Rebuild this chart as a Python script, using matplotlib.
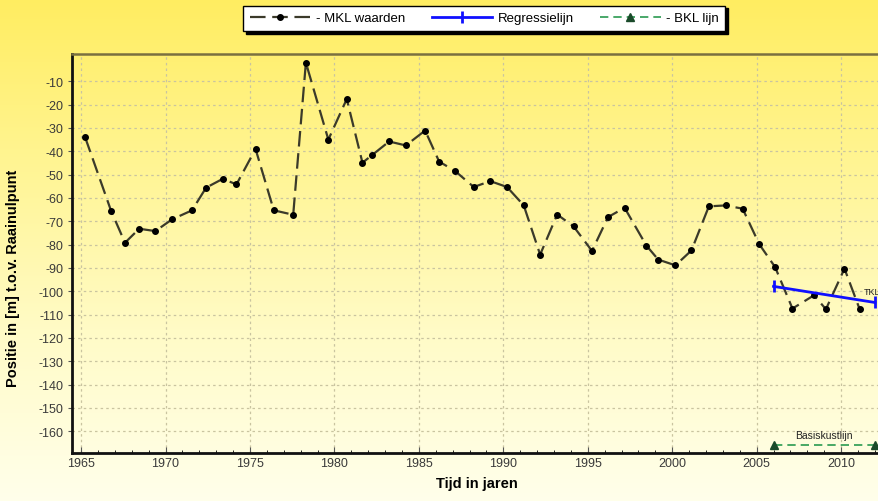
import numpy as np
import matplotlib
matplotlib.use("Agg")
import matplotlib.pyplot as plt
from matplotlib.colors import LinearSegmentedColormap

# ---- data ----
mkl_years = [1965.24, 1966.78, 1967.6, 1968.44, 1969.4, 1970.38, 1971.57, 1972.4,
             1973.39, 1974.2, 1975.33, 1976.41, 1977.56, 1978.31, 1979.64, 1980.73,
             1981.66, 1982.2, 1983.24, 1984.23, 1985.37, 1986.2, 1987.15, 1988.25,
             1989.23, 1990.22, 1991.21, 1992.18, 1993.19, 1994.16, 1995.25, 1996.2,
             1997.18, 1998.47, 1999.17, 2000.19, 2001.14, 2002.17, 2003.16, 2004.17,
             2005.16, 2006.09, 2007.12, 2008.4, 2009.1, 2010.2, 2011.1]
mkl_values = [-34, -65.6, -79.2, -73.2, -74.2, -69.2, -65.3, -55.6,
              -51.8, -54.2, -39.0, -65.3, -67.2, -2.0, -35.0, -17.6,
              -44.9, -41.8, -35.8, -37.5, -31.1, -44.4, -48.5, -55.3,
              -52.8, -55.3, -63.2, -84.3, -67.1, -72.2, -82.7, -68.2,
              -64.2, -80.4, -86.4, -88.9, -82.5, -63.6, -63.2, -64.6,
              -79.9, -89.6, -107.4, -101.7, -107.7, -90.3, -107.7]
reg_years = [2006.0, 2012.0]
reg_values = [-97.9, -104.8]
bkl_years = [2006.0, 2012.0]
bkl_values = [-166.0, -166.0]
x_ticks = [1965, 1970, 1975, 1980, 1985, 1990, 1995, 2000, 2005, 2010]
y_ticks = list(range(-10, -161, -10))
legend_labels = ["- MKL waarden", "Regressielijn", "- BKL lijn"]

plt.rcParams['font.family'] = ['Liberation Sans', 'DejaVu Sans']
plt.rcParams['axes.unicode_minus'] = False

fig = plt.figure(figsize=(8.79, 5.02), dpi=100)

# background gradient
bg = fig.add_axes([0, 0, 1, 1], zorder=-10)
cmap = LinearSegmentedColormap.from_list(
    "yel", [(1.0, 0.93, 0.38), (1.0, 0.96, 0.58), (1.0, 0.985, 0.78), (1.0, 1.0, 0.92)])
grad = np.linspace(0, 1, 256).reshape(-1, 1)
bg.imshow(grad, aspect='auto', cmap=cmap, extent=[0, 1, 0, 1], origin='upper')
bg.set_axis_off()

ax = fig.add_axes([72.3 / 879, 1 - 453.5 / 502, 1 - 72.3 / 879 + 0.003, (453.5 - 55) / 502])
ax.patch.set_alpha(0)
ax.set_xlim(1964.48, 2012.4)
ax.set_ylim(-169.1, 1.7)

ax.set_xticks(x_ticks)
ax.set_xticks(np.arange(1965, 2013, 1), minor=True)
ax.set_yticks(y_ticks)
ax.tick_params(axis='both', labelsize=9, labelcolor='#3a3a3a', color='#555555')
ax.tick_params(axis='x', which='major', direction='in', length=4)
ax.tick_params(axis='x', which='minor', direction='in', length=2)
ax.tick_params(axis='y', which='major', direction='out', length=3)
ax.grid(True, which='major', color='#c9c4a0', linestyle=(0, (2, 2.5)), linewidth=0.9)
ax.set_axisbelow(True)

for s in ['left', 'bottom']:
    ax.spines[s].set_linewidth(2)
    ax.spines[s].set_color('#111111')
ax.spines['top'].set_linewidth(1.8)
ax.spines['top'].set_color('#7a7040')
ax.spines['right'].set_visible(False)

l1, = ax.plot(mkl_years, mkl_values, color='#3b3a2a', linestyle=(0, (7, 3)), linewidth=1.6,
              marker='o', markersize=4, markerfacecolor='black', markeredgecolor='black',
              zorder=3)
l2, = ax.plot(reg_years, reg_values, color='#1010ff', linewidth=2, marker='|',
              markersize=9, markeredgewidth=2, zorder=4)
l3, = ax.plot(bkl_years, bkl_values, color='#2a9a50', linestyle=(0, (5, 3)), linewidth=1.2,
              marker='^', markersize=5.5, markerfacecolor='#1a4a2a', markeredgecolor='#1a4a2a',
              zorder=4)

ax.text(2012.3, -100.0, "TKL", fontsize=6.5, color='#222222', ha='right', va='center')
ax.text(2009.0, -161.5, "Basiskustlijn", fontsize=7.5, color='#222222', ha='center',
        va='center')

ax.set_xlabel("Tijd in jaren", fontsize=10.5, fontweight='bold', labelpad=5)
ax.set_ylabel("Positie in [m] t.o.v. Raainulpunt", fontsize=10.5, fontweight='bold')
ax.yaxis.set_label_coords(-0.065, 0.44)

leg = fig.legend([l1, l2, l3], legend_labels, loc='upper center',
                 bbox_to_anchor=(0.551, 1.0), ncol=3, fontsize=9.5, frameon=True,
                 fancybox=False, shadow={'color': 'black', 'alpha': 1.0},
                 edgecolor='black', facecolor='white', framealpha=1,
                 handlelength=4.6, columnspacing=2.0, handletextpad=0.4,
                 borderpad=0.5)
leg.get_frame().set_linewidth(1.0)

fig.savefig("out.png", dpi=100)
